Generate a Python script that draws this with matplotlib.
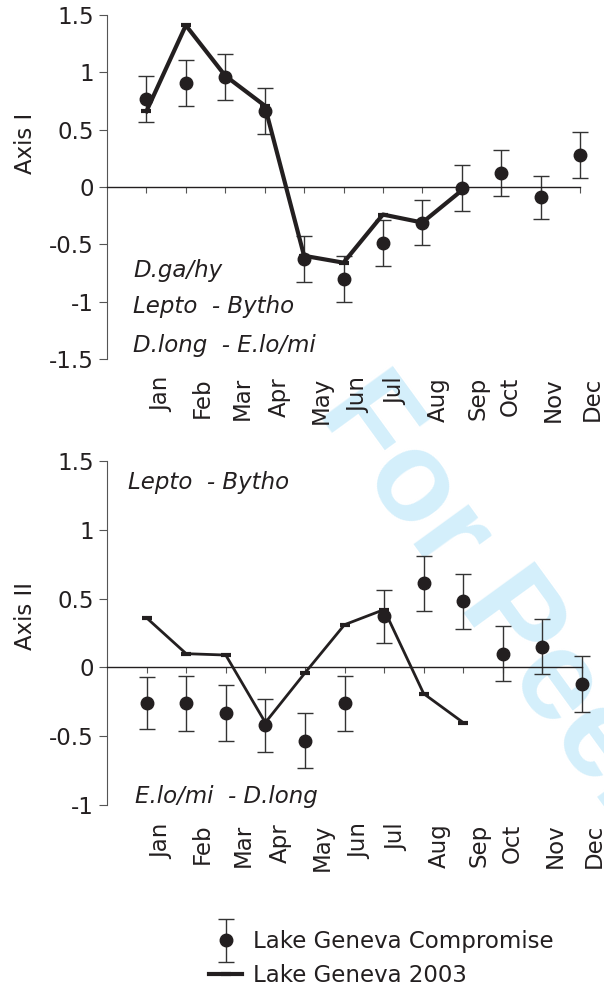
import numpy as np
import matplotlib.pyplot as plt
import matplotlib.transforms as mtransforms
from matplotlib.container import ErrorbarContainer
from matplotlib.legend_handler import HandlerErrorbar

plt.rcParams['font.family'] = ['DejaVu Sans']
plt.rcParams['axes.unicode_minus'] = False

months = ['Jan', 'Feb', 'Mar', 'Apr', 'May', 'Jun', 'Jul', 'Aug', 'Sep', 'Oct', 'Nov', 'Dec']
x = np.arange(1, 13)

# Axis I
comp1 = [0.77, 0.91, 0.96, 0.66, -0.63, -0.80, -0.49, -0.31, -0.01, 0.12, -0.09, 0.28]
comp1_err = [0.20, 0.20, 0.20, 0.20, 0.20, 0.20, 0.20, 0.20, 0.20, 0.20, 0.19, 0.20]
y2003_1 = [0.66, 1.41, 0.97, 0.71, -0.60, -0.66, -0.24, -0.31, -0.03]

# Axis II
comp2 = [-0.26, -0.26, -0.33, -0.42, -0.53, -0.26, 0.37, 0.61, 0.48, 0.10, 0.15, -0.12]
comp2_err = [0.19, 0.20, 0.20, 0.19, 0.20, 0.20, 0.19, 0.20, 0.20, 0.20, 0.20, 0.20]
y2003_2 = [0.36, 0.10, 0.09, -0.40, -0.04, 0.31, 0.42, -0.19, -0.40]

notes1 = ['D.ga/hy', 'Lepto  - Bytho', 'D.long  - E.lo/mi']
notes2 = ['Lepto  - Bytho', 'E.lo/mi  - D.long']

dark = '#231f20'
fs = 16.5
# small right shift of each month label (pixels)
lab_dx = [15, 16, 17, 15, 17, 15, 13, 16, 16, 9, 13, 12]

fig = plt.figure(figsize=(6.04, 9.94), dpi=100)

# watermark
fig.text(316 / 604, 1 - 410 / 994, 'For Peer Review', rotation=-54, rotation_mode='anchor',
         ha='left', va='baseline', fontsize=92, fontweight='bold', family='Liberation Sans',
         color='#d4effb', zorder=-1)


def panel(ax, comp, err, line, lw, ymin, ymax, ylabel, lab_y):
    eb = ax.errorbar(x, comp, yerr=err, fmt='o', ms=9, color=dark, ecolor='#333333',
                     elinewidth=1.0, capsize=5.5, capthick=1.0, zorder=2, clip_on=False)
    ln, = ax.plot(x[:len(line)], line, '-', marker='_', ms=7, mew=3, lw=lw, color=dark,
                  zorder=3, clip_on=False)
    ax.set_xlim(0, 12)
    ax.set_ylim(ymin, ymax)
    ax.set_yticks(np.arange(ymin, ymax + 0.01, 0.5))
    ax.yaxis.set_major_formatter(plt.FuncFormatter(lambda v, _: f'{v:g}'))
    ax.set_xticks(x)
    ax.tick_params(axis='x', direction='out', length=4.5, width=0.8, color='#555555',
                   labelbottom=False)
    ax.tick_params(axis='y', direction='out', length=5.5, width=0.8, color='#555555',
                   labelsize=fs, pad=4, labelcolor=dark)
    for s in ['top', 'right']:
        ax.spines[s].set_visible(False)
    ax.spines['bottom'].set_position(('data', 0))
    ax.spines['bottom'].set_color(dark)
    ax.spines['bottom'].set_linewidth(1.0)
    ax.spines['left'].set_color('#555555')
    ax.spines['left'].set_linewidth(0.8)
    ax.set_facecolor('none')
    ax.set_ylabel(ylabel, fontsize=fs, color=dark)
    ax.yaxis.set_label_coords(-0.148, lab_y)
    base = mtransforms.blended_transform_factory(ax.transData, ax.transAxes)
    for i, m in enumerate(months):
        off = mtransforms.ScaledTranslation(lab_dx[i] / 100, -18 / 100, fig.dpi_scale_trans)
        ax.text(x[i], 0, m, transform=base + off, rotation=90, ha='center', va='top',
                fontsize=fs, color=dark)
    return eb, ln


ax1 = fig.add_axes([107 / 604, 1 - 359 / 994, 473 / 604, 344 / 994])
eb, ln = panel(ax1, comp1, comp1_err, y2003_1, 3.0, -1.5, 1.5, 'Axis I', 0.628)
ax1.text(0.056, 0.239, notes1[0], transform=ax1.transAxes, style='italic', fontsize=fs, color=dark)
ax1.text(0.056, 0.1346, notes1[1], transform=ax1.transAxes, style='italic', fontsize=fs, color=dark)
ax1.text(0.056, 0.021, notes1[2], transform=ax1.transAxes, style='italic', fontsize=fs, color=dark)

ax2 = fig.add_axes([107 / 604, 1 - 805.3 / 994, 475 / 604, 344.6 / 994])
panel(ax2, comp2, comp2_err, y2003_2, 2.0, -1.0, 1.5, 'Axis II', 0.549)
ax2.text(0.045, 0.917, notes2[0], transform=ax2.transAxes, style='italic', fontsize=fs, color=dark)
ax2.text(0.059, 0.006, notes2[1], transform=ax2.transAxes, style='italic', fontsize=fs, color=dark)

fig.legend([eb, ln], ['Lake Geneva Compromise', 'Lake Geneva 2003'],
           loc='upper left', bbox_to_anchor=(198 / 604, 1 - 919 / 994), frameon=False,
           fontsize=fs, handlelength=1.4, handletextpad=0.5, labelspacing=0.45, borderpad=0,
           labelcolor=dark, handler_map={ErrorbarContainer: HandlerErrorbar(yerr_size=0.95)})

plt.savefig('out.png', dpi=100)
